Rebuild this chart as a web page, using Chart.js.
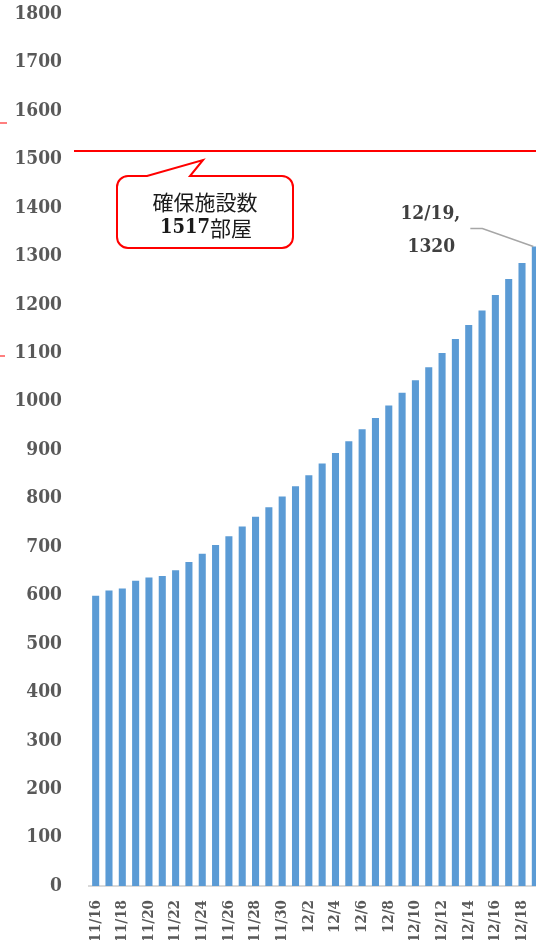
<!DOCTYPE html>
<html>
<head>
<meta charset="utf-8">
<script src="https://cdn.jsdelivr.net/npm/chart.js@4"></script>
<style>
  html, body { margin: 0; padding: 0; overflow: hidden; background: #fff; }
  #wrap { position: absolute; left: 0; top: 0; width: 536px; height: 940px; overflow: hidden; }
</style>
</head>
<body>
<div id="wrap"><canvas id="roomChart" width="542" height="940"></canvas></div>
<script>
// 日付ごとの確保部屋数
const dates = ["11/16", "11/17", "11/18", "11/19", "11/20", "11/21", "11/22", "11/23", "11/24", "11/25",
    "11/26", "11/27", "11/28", "11/29", "11/30", "12/1", "12/2", "12/3", "12/4", "12/5",
    "12/6", "12/7", "12/8", "12/9", "12/10", "12/11", "12/12", "12/13", "12/14", "12/15",
    "12/16", "12/17", "12/18", "12/19"];
const rooms = [599, 610, 614, 630, 637, 640, 652, 669, 686, 704,
    722, 742, 762, 782, 804, 825, 848, 872, 894, 918,
    943, 966, 992, 1018, 1044, 1071, 1100, 1129, 1158, 1188,
    1220, 1253, 1286, 1320];
const capacity = 1517;
const calloutLines = ["確保施設数", "1517", "部屋"];

const serif = "'DejaVu Serif Condensed', 'DejaVu Serif', serif";
const cjk = "'Noto Sans CJK JP', sans-serif";

// 赤線・吹き出し・最終日のラベル
const overlay = {
    id: "overlay",
    afterDatasetsDraw(chart) {
        let ctx = chart.ctx;
        let area = chart.chartArea;
        let y = chart.scales.y;
        let x = chart.scales.x;
        ctx.save();

        // capacity line
        let cy = y.getPixelForValue(capacity);
        ctx.strokeStyle = "#ff0000";
        ctx.lineWidth = 2;
        ctx.beginPath();
        ctx.moveTo(74, cy);
        ctx.lineTo(area.right, cy);
        ctx.stroke();

        // small leftover marks on the left edge
        ctx.lineWidth = 1.2;
        ctx.beginPath();
        ctx.moveTo(0, 123); ctx.lineTo(7, 123);
        ctx.moveTo(0, 356); ctx.lineTo(5, 356);
        ctx.stroke();

        // callout box
        let l = 117, t = 176, r = 293, b = 248, rad = 11;
        ctx.beginPath();
        ctx.moveTo(l + rad, t);
        ctx.lineTo(147, t);
        ctx.lineTo(203, 160);
        ctx.lineTo(190, t);
        ctx.lineTo(r - rad, t);
        ctx.arcTo(r, t, r, t + rad, rad);
        ctx.lineTo(r, b - rad);
        ctx.arcTo(r, b, r - rad, b, rad);
        ctx.lineTo(l + rad, b);
        ctx.arcTo(l, b, l, b - rad, rad);
        ctx.lineTo(l, t + rad);
        ctx.arcTo(l, t, l + rad, t, rad);
        ctx.closePath();
        ctx.fillStyle = "#ffffff";
        ctx.fill();
        ctx.strokeStyle = "#ff0000";
        ctx.lineWidth = 2;
        ctx.stroke();

        ctx.fillStyle = "#1a1a1a";
        ctx.textBaseline = "middle";
        ctx.textAlign = "center";
        ctx.font = "21px " + cjk;
        ctx.fillText(calloutLines[0], 205, 202);

        ctx.textAlign = "left";
        ctx.font = "bold 20px " + serif;
        let w1 = ctx.measureText(calloutLines[1]).width;
        ctx.font = "21px " + cjk;
        let w2 = ctx.measureText(calloutLines[2]).width;
        let sx = 206 - (w1 + w2) / 2;
        ctx.font = "bold 20px " + serif;
        ctx.fillText(calloutLines[1], sx, 228);
        ctx.font = "21px " + cjk;
        ctx.fillText(calloutLines[2], sx + w1, 228);

        // label for the last bar
        let last = rooms.length - 1;
        let bx = x.getPixelForValue(last);
        let by = y.getPixelForValue(rooms[last]);
        ctx.strokeStyle = "#a6a6a6";
        ctx.lineWidth = 1.5;
        ctx.beginPath();
        ctx.moveTo(bx - 65, by - 18);
        ctx.lineTo(bx - 53, by - 18);
        ctx.lineTo(bx - 2, by);
        ctx.stroke();

        ctx.fillStyle = "#404040";
        ctx.textAlign = "center";
        ctx.font = "bold 19px " + serif;
        ctx.fillText(dates[last] + ",", bx - 105, by - 32);
        ctx.fillText(String(rooms[last]), bx - 104, by + 1);

        ctx.restore();
    }
};

new Chart(document.getElementById("roomChart"), {
    type: "bar",
    data: {
        labels: dates,
        datasets: [{
            data: rooms,
            backgroundColor: "#5b9bd5",
            barPercentage: 0.53,
            categoryPercentage: 1.0
        }]
    },
    options: {
        responsive: false,
        animation: false,
        layout: { padding: { top: 14, left: 0, right: 0, bottom: 0 } },
        plugins: {
            legend: { display: false },
            tooltip: { enabled: false }
        },
        scales: {
            x: {
                grid: { display: false, drawTicks: false },
                border: { display: true, color: "#d9d9d9", width: 2 },
                ticks: {
                    autoSkip: false,
                    minRotation: 90,
                    maxRotation: 90,
                    padding: 14,
                    color: "#595959",
                    font: { family: serif, size: 15, weight: "bold" },
                    callback: function (value, index) {
                        return index % 2 === 0 ? dates[index] : null;
                    }
                },
                afterFit: function (scale) {
                    scale.height = 54;
                    scale.paddingLeft = 0;
                    scale.paddingRight = 0;
                }
            },
            y: {
                min: 0,
                max: 1800,
                grid: { display: false, drawTicks: false },
                border: { display: false },
                ticks: {
                    stepSize: 100,
                    padding: 27,
                    color: "#595959",
                    font: { family: serif, size: 19, weight: "bold" },
                    callback: function (value) { return String(value); }
                },
                afterFit: function (scale) {
                    scale.width = 89;
                    scale.paddingTop = 0;
                    scale.paddingBottom = 0;
                }
            }
        }
    },
    plugins: [overlay]
});
</script>
</body>
</html>
